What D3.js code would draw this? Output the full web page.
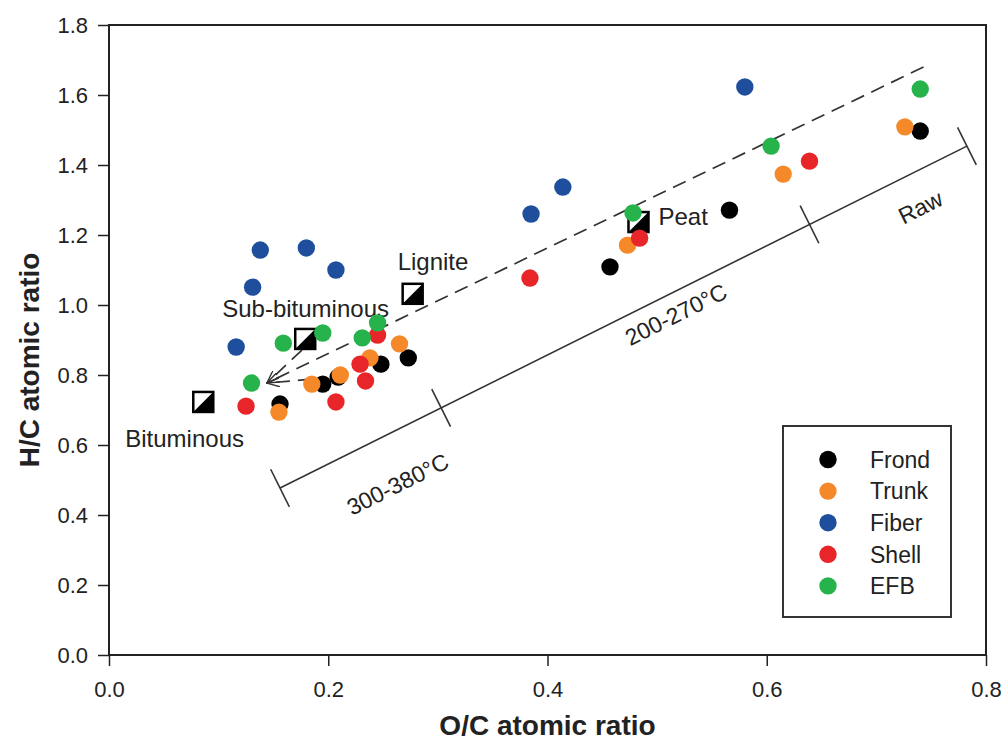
<!DOCTYPE html>
<html>
<head>
<meta charset="utf-8">
<script src="https://cdn.jsdelivr.net/npm/d3@7"></script>
<style>
  body { margin: 0; background: #fff; }
  text { font-family: Arial, "Liberation Sans", sans-serif; }
</style>
</head>
<body>
<svg id="chart" width="1006" height="740"></svg>
<script>
// series and points [O/C, H/C]
const seriesNames = ["Frond", "Trunk", "Fiber", "Shell", "EFB"]
const seriesColors = ["#000000", "#f5892a", "#1f4f9c", "#e8262a", "#26b34b"]
const frond = [[0.156, 0.717], [0.195, 0.774], [0.209, 0.794], [0.248, 0.831], [0.273, 0.849], [0.457, 1.109], [0.566, 1.271], [0.740, 1.497]]
const trunk = [[0.155, 0.694], [0.185, 0.774], [0.211, 0.800], [0.238, 0.849], [0.265, 0.889], [0.473, 1.171], [0.615, 1.374], [0.726, 1.509]]
const fiber = [[0.116, 0.880], [0.131, 1.051], [0.138, 1.157], [0.180, 1.163], [0.207, 1.100], [0.385, 1.260], [0.414, 1.337], [0.580, 1.623]]
const shell = [[0.125, 0.711], [0.207, 0.723], [0.229, 0.831], [0.234, 0.783], [0.245, 0.914], [0.384, 1.077], [0.484, 1.191], [0.639, 1.411]]
const efb = [[0.130, 0.777], [0.159, 0.891], [0.195, 0.920], [0.231, 0.906], [0.245, 0.949], [0.478, 1.263], [0.604, 1.454], [0.740, 1.617]]
const seriesData = [frond, trunk, fiber, shell, efb]

// coal reference markers
const coalNames = ["Bituminous", "Sub-bituminous", "Lignite", "Peat"]
const coalOC = [0.086, 0.179, 0.277, 0.483]
const coalHC = [0.723, 0.903, 1.032, 1.237]

// dashed arrows (start -> tip)
const arrowTip = [0.144, 0.777]
const arrowStarts = [[0.743, 1.680], [0.176, 0.871], [0.185, 0.788]]

// solid temperature scale line with break ticks
const scaleBreaks = [[0.156, 0.477], [0.303, 0.770], [0.639, 1.436], [0.7826, 1.454]]
const rangeLabels = ["300-380°C", "200-270°C", "Raw"]

const xTicks = [0, 0.2, 0.4, 0.6, 0.8]
const yTicks = [0, 0.2, 0.4, 0.6, 0.8, 1.0, 1.2, 1.4, 1.6, 1.8]

const svg = d3.select("#chart")
const x = d3.scaleLinear().domain([0, 0.8]).range([109, 986])
const y = d3.scaleLinear().domain([0, 1.8]).range([655, 25])

// axes
svg.append("g")
    .attr("transform", "translate(0,655)")
    .call(d3.axisBottom(x).tickValues(xTicks).tickFormat(d3.format(".1f")).tickSize(11).tickPadding(15))
    .call(g => g.select(".domain").remove())
    .call(g => g.selectAll("line").attr("stroke", "#222").attr("stroke-width", 1.5))
    .call(g => g.selectAll("text").attr("font-size", 22).attr("fill", "#222"))

svg.append("g")
    .attr("transform", "translate(109,0)")
    .call(d3.axisLeft(y).tickValues(yTicks).tickFormat(d3.format(".1f")).tickSize(11).tickPadding(10))
    .call(g => g.select(".domain").remove())
    .call(g => g.selectAll("line").attr("stroke", "#222").attr("stroke-width", 1.5))
    .call(g => g.selectAll("text").attr("font-size", 22).attr("fill", "#222"))

svg.append("rect")
    .attr("x", x(0)).attr("y", y(1.8))
    .attr("width", x(0.8) - x(0)).attr("height", y(0) - y(1.8))
    .attr("fill", "none").attr("stroke", "#222").attr("stroke-width", 2)

svg.append("text")
    .attr("x", (x(0) + x(0.8)) / 2).attr("y", 735)
    .attr("text-anchor", "middle").attr("font-size", 28).attr("font-weight", "bold").attr("fill", "#222")
    .text("O/C atomic ratio")

svg.append("text")
    .attr("transform", "translate(39," + (y(0.9) + 20) + ") rotate(-90)")
    .attr("text-anchor", "middle").attr("font-size", 28).attr("font-weight", "bold").attr("fill", "#222")
    .text("H/C atomic ratio")

// arrow marker
svg.append("defs").append("marker")
    .attr("id", "arr").attr("viewBox", "0 0 14 10").attr("refX", 13).attr("refY", 5)
    .attr("markerWidth", 14).attr("markerHeight", 10).attr("markerUnits", "userSpaceOnUse")
    .attr("orient", "auto")
    .append("path").attr("d", "M0,0 L13,5 L0,10").attr("fill", "none").attr("stroke", "#333").attr("stroke-width", 1.4)

svg.selectAll(".arrow").data(arrowStarts).enter().append("line")
    .attr("x1", d => x(d[0])).attr("y1", d => y(d[1]))
    .attr("x2", x(arrowTip[0])).attr("y2", y(arrowTip[1]))
    .attr("stroke", "#333").attr("stroke-width", 1.7).attr("stroke-dasharray", "14,8")
    .attr("marker-end", "url(#arr)")

// solid scale line
const p0 = scaleBreaks[0], p1 = scaleBreaks[scaleBreaks.length - 1]
const px0 = x(p0[0]), py0 = y(p0[1]), px1 = x(p1[0]), py1 = y(p1[1])
svg.append("line").attr("x1", px0).attr("y1", py0).attr("x2", px1).attr("y2", py1)
    .attr("stroke", "#333").attr("stroke-width", 1.6)
const len = Math.hypot(px1 - px0, py1 - py0)
const ux = (px1 - px0) / len, uy = (py1 - py0) / len
const nx = -uy, ny = ux
const ang = Math.atan2(py1 - py0, px1 - px0) * 180 / Math.PI
const breakPts = scaleBreaks.map(d => {
    const bx = x(d[0])
    return [bx, py0 + (bx - px0) * uy / ux]
})
svg.selectAll(".brk").data(breakPts).enter().append("line")
    .attr("x1", d => d[0] - nx * 21).attr("y1", d => d[1] - ny * 21)
    .attr("x2", d => d[0] + nx * 21).attr("y2", d => d[1] + ny * 21)
    .attr("stroke", "#333").attr("stroke-width", 1.6)

// label offsets: [along line, below line] in px
const rangeOff = [[17, 49], [46, 21], [19, 34]]
svg.selectAll(".rlab").data(rangeLabels).enter().append("text")
    .attr("transform", (d, i) => {
        const a = breakPts[i], b = breakPts[i + 1], o = rangeOff[i]
        const cx = (a[0] + b[0]) / 2 + ux * o[0] + nx * o[1]
        const cy = (a[1] + b[1]) / 2 + uy * o[0] + ny * o[1]
        return "translate(" + cx + "," + cy + ") rotate(" + ang + ")"
    })
    .attr("text-anchor", "middle").attr("dy", "0.35em").attr("font-size", 23).attr("fill", "#222")
    .text(d => d)

// coal squares (half white, half black)
const sq = 20
const coal = svg.selectAll(".coal").data(coalNames).enter().append("g")
    .attr("transform", (d, i) => "translate(" + (x(coalOC[i]) - sq / 2) + "," + (y(coalHC[i]) - sq / 2) + ")")
coal.append("rect").attr("width", sq).attr("height", sq).attr("fill", "#fff")
coal.append("path").attr("d", "M" + sq + ",0 L" + sq + "," + sq + " L0," + sq + "Z").attr("fill", "#000")
coal.append("rect").attr("width", sq).attr("height", sq).attr("fill", "none").attr("stroke", "#000").attr("stroke-width", 2.5)

const coalLabelOff = [[-78, 45], [-83, -22], [-15, -24], [20, 3]]
svg.selectAll(".clab").data(coalNames).enter().append("text")
    .attr("x", (d, i) => x(coalOC[i]) + coalLabelOff[i][0])
    .attr("y", (d, i) => y(coalHC[i]) + coalLabelOff[i][1])
    .attr("text-anchor", "start").attr("font-size", 24).attr("fill", "#222")
    .text(d => d)

// data points
seriesData.forEach((pts, i) => {
    svg.append("g").selectAll("circle").data(pts).enter().append("circle")
        .attr("cx", d => x(d[0])).attr("cy", d => y(d[1])).attr("r", 8.7)
        .attr("fill", seriesColors[i])
})

// legend
svg.append("rect").attr("x", 783).attr("y", 426).attr("width", 168).attr("height", 191)
    .attr("fill", "#fff").attr("stroke", "#333").attr("stroke-width", 2)
const leg = svg.selectAll(".leg").data(seriesNames).enter().append("g")
    .attr("transform", (d, i) => "translate(828," + (459.5 + i * 31.6) + ")")
leg.append("circle").attr("r", 8.7).attr("fill", (d, i) => seriesColors[i])
leg.append("text").attr("x", 42).attr("dy", "0.36em").attr("font-size", 23).attr("fill", "#222").text(d => d)
</script>
</body>
</html>
